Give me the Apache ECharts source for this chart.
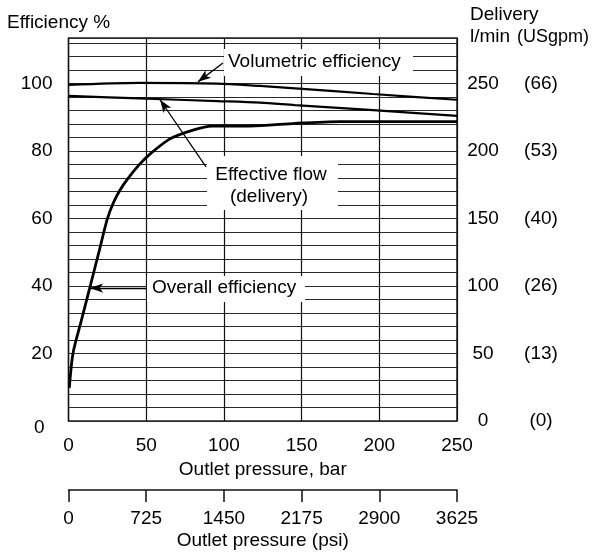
<!DOCTYPE html>
<html><head><meta charset="utf-8">
<script src="https://cdn.jsdelivr.net/npm/echarts@6/dist/echarts.min.js"></script>
<style>html,body{margin:0;padding:0;background:#fff}#c{width:595px;height:556px}</style>
</head><body><div id="c"></div>
<script>
// ---- data ----
const barTicks = [0, 50, 100, 150, 200, 250];
const psiTicks = [0, 725, 1450, 2175, 2900, 3625];
const effTickLabels = [0, 20, 40, 60, 80, 100];
const deliveryTicks = [0, 50, 100, 150, 200, 250];
const usgpmTicks = ['0', '13', '26', '40', '53', '66'];

const pressureVol = [0, 45.4, 95.6, 123.2, 145.8, 196, 250];
const volumetricEff = [99.6, 100.2, 100, 99.3, 98.6, 96.9, 95.2];

const pressureFlow = [0, 45.4, 95.6, 123.2, 145.8, 196, 250];
const effectiveFlowLmin = [240.8, 239, 237, 235.8, 234, 230.3, 226];

const pressureOverall = [0.5, 2.9, 8.0, 13.8, 19.6, 24.8, 28.8, 33.1, 38.3, 45.4, 52.4, 65.3, 80.1, 92.3, 116.8, 145.8, 174.7, 250];
const overallEff = [9.8, 20.1, 29.3, 39.7, 50.1, 59.6, 64.6, 68.4, 71.9, 75.9, 79.1, 83.6, 86.2, 87.4, 87.4, 88.2, 88.7, 88.7];

// annotation arrows (data units: bar, %): [tail, tip]
const arrowVol = [[99.4, 106.1], [83.3, 100.5]];
const arrowFlow = [[88.5, 75.3], [58.9, 95.2]];
const arrowOverall = [[50.5, 39.4], [13.9, 39.4]];

const FONT = '"Liberation Sans", Arial, sans-serif';
const FS = 19;

const zip = (a, b) => a.map((v, i) => [v, b[i]]);
const chart = echarts.init(document.getElementById('c'), null, {renderer: 'canvas'});

function arrow(pair) {
  return [{coord: pair[0]}, {coord: pair[1]}];
}
function labelBox(x, y, w, h) {
  return {type: 'rect', z: 100, shape: {x: x, y: y, width: w, height: h}, style: {fill: '#fff'}};
}
function txt(s, x, y, align, size) {
  return {type: 'text', z: 101, x: x, y: y,
    style: {text: s, font: (size || FS) + 'px ' + FONT, fill: '#000', align: align || 'left', verticalAlign: 'middle'}};
}

const option = {
  animation: false,
  backgroundColor: '#fff',
  grid: [
    {left: 68.5, right: 138, top: 38, bottom: 135, show: true, borderColor: '#222', borderWidth: 1.5, backgroundColor: 'transparent'},
    {left: 68.5, right: 138, top: 489, height: 1, show: false}
  ],
  xAxis: [
    {type: 'value', gridIndex: 0, min: 0, max: 250, interval: 50,
     name: 'Outlet pressure, bar', nameLocation: 'middle', nameGap: 33,
     nameTextStyle: {fontFamily: FONT, fontSize: FS, color: '#000'},
     axisLine: {show: false}, axisTick: {show: false},
     axisLabel: {margin: 15, fontFamily: FONT, fontSize: FS, color: '#000',
       formatter: v => barTicks.indexOf(v) >= 0 ? String(v) : ''},
     splitLine: {show: true, lineStyle: {color: '#111', width: 1.2}}},
    {type: 'value', gridIndex: 1, min: 0, max: 3625, interval: 725, position: 'bottom',
     name: 'Outlet pressure (psi)', nameLocation: 'middle', nameGap: 41,
     nameTextStyle: {fontFamily: FONT, fontSize: FS, color: '#000'},
     axisLine: {show: true, onZero: false, lineStyle: {color: '#111', width: 1.5}},
     axisTick: {show: true, inside: false, length: 12, lineStyle: {color: '#111', width: 1.5}},
     axisLabel: {margin: 19, fontFamily: FONT, fontSize: FS, color: '#000',
       formatter: v => psiTicks.indexOf(v) >= 0 ? String(v) : ''},
     splitLine: {show: false}}
  ],
  yAxis: [
    {type: 'value', gridIndex: 0, min: 0, max: 113.5, interval: 4,
     axisLine: {show: false}, axisTick: {show: false},
     axisLabel: {margin: 16, fontFamily: FONT, fontSize: FS, color: '#000',
       formatter: v => v === 0 ? '{z|0}' : (effTickLabels.indexOf(v) >= 0 ? String(v) : ''),
       rich: {z: {padding: [14, 8, 0, 0], fontFamily: FONT, fontSize: FS, color: '#000'}}},
     splitLine: {show: true, lineStyle: {color: '#2a2a2a', width: 1}}},
    {type: 'value', gridIndex: 0, min: 0, max: 283.75, interval: 50, position: 'right',
     axisLine: {show: false}, axisTick: {show: false}, splitLine: {show: false},
     axisLabel: {margin: 11, fontFamily: FONT, fontSize: FS, color: '#000',
       formatter: v => {
         const i = deliveryTicks.indexOf(v);
         return i >= 0 ? '{a|' + v + '}{b|(' + usgpmTicks[i] + ')}' : '';
       },
       rich: {
         a: {width: 30, align: 'right', fontFamily: FONT, fontSize: FS, color: '#000'},
         b: {width: 86, align: 'center', fontFamily: FONT, fontSize: FS, color: '#000'}
       }}},
    {type: 'value', gridIndex: 1, min: 0, max: 1, show: false}
  ],
  series: [
    {type: 'line', name: 'Volumetric efficiency', xAxisIndex: 0, yAxisIndex: 0,
     data: zip(pressureVol, volumetricEff), showSymbol: false, smooth: 0.3,
     lineStyle: {color: '#000', width: 2.2}, z: 5},
    {type: 'line', name: 'Effective flow (delivery)', xAxisIndex: 0, yAxisIndex: 1,
     data: zip(pressureFlow, effectiveFlowLmin), showSymbol: false, smooth: 0.3,
     lineStyle: {color: '#000', width: 2.2}, z: 5},
    {type: 'line', name: 'Overall efficiency', xAxisIndex: 0, yAxisIndex: 0,
     data: zip(pressureOverall, overallEff), showSymbol: false, smooth: 0.25,
     lineStyle: {color: '#000', width: 2.8}, z: 5,
     markLine: {silent: true, symbol: ['none', 'arrow'], symbolSize: [7, 13],
       lineStyle: {color: '#000', width: 1.3, type: 'solid'}, label: {show: false},
       data: [arrow(arrowVol), arrow(arrowFlow), arrow(arrowOverall)]}}
  ],
  graphic: [
    txt('Efficiency %', 7, 23),
    txt('Delivery', 470, 15),
    txt('l/min', 470, 37),
    txt('(USgpm)', 589, 37, 'right', 18),
    labelBox(224, 49, 189, 27),
    txt('Volumetric efficiency', 228, 62),
    labelBox(207, 156, 131, 54),
    txt('Effective flow', 271, 175, 'center'),
    txt('(delivery)', 269, 197, 'center'),
    labelBox(147, 276, 158, 26),
    txt('Overall efficiency', 152, 288)
  ]
};
chart.setOption(option);
</script>
</body></html>
